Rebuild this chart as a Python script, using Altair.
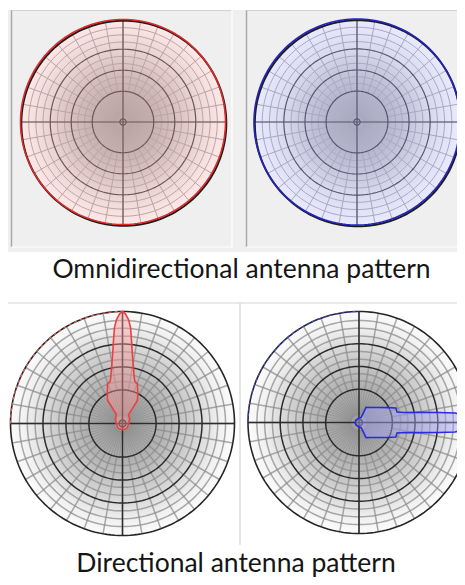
import math
import altair as alt
import pandas as pd

# ---------------- data ----------------
TITLES = ["Omnidirectional antenna pattern", "Directional antenna pattern"]

# grid circles, as a fraction of the outer circle
MAJOR_RINGS = [0.30, 0.505, 0.71]
MINOR_RINGS = [0.075, 0.375, 0.44, 0.57, 0.64, 0.78, 0.85, 0.92]
CENTER_RING = [0.03]
OUTER_RING = [1.0]
# radial grid lines (degrees, clockwise from north)
OUTER_SPOKES = list(range(0, 360, 10))
INNER_SPOKES = list(range(0, 360, 5))

# directional patterns: angle off the beam axis (deg) and relative radius
RED_ANGLE = [0, 1.5, 3.3, 4.8, 6, 8, 11, 14.5, 16.5, 20.5, 27, 33, 33.5, 34, 55, 90, 130, 150, 180]
RED_GAIN = [1.00, 0.98, 0.93, 0.86, 0.76, 0.63, 0.51, 0.42, 0.39, 0.38, 0.30, 0.245, 0.16, 0.096,
            0.077, 0.056, 0.057, 0.058, 0.056]
RED_BEAM_AZ = 0

BLUE_ANGLE = [0, 2.1, 4.1, 5.65, 7.1, 9.5, 12.5, 15.4, 21.4, 26.6, 36.9, 51.3, 65, 65.5, 68, 90, 140, 180]
BLUE_GAIN = [1.00, 0.98, 0.94, 0.87, 0.725, 0.55, 0.415, 0.355, 0.357, 0.30, 0.225, 0.173, 0.15,
             0.08, 0.049, 0.041, 0.035, 0.036]
BLUE_BEAM_AZ = 90

# ---------------- layout ----------------
W, H = 449, 569
XS = alt.Scale(domain=[8, 8 + W], nice=False, zero=False)
YS = alt.Scale(domain=[8, 8 + H], nice=False, zero=False, reverse=True)
RS = alt.Scale(type="linear", domain=[0, 200], range=[0, 200], zero=True)

TL = (123, 122, 102.5)
TR = (357, 122, 103)
BL = (122.5, 423.5, 112)
BR = (359, 422.5, 111)


def X(f="x"):
    return alt.X(f"{f}:Q", scale=XS, axis=None)


def Y(f="y"):
    return alt.Y(f"{f}:Q", scale=YS, axis=None)


def ring_df(cx, cy, R, fracs, a0=0, a1=360, step=2):
    rows = []
    n = int(round((a1 - a0) / step))
    for k, f in enumerate(fracs):
        for i in range(n + 1):
            a = math.radians(a0 + i * step)
            rows.append({"ring": k, "i": i,
                         "x": cx + R * f * math.sin(a),
                         "y": cy - R * f * math.cos(a)})
    return pd.DataFrame(rows)


def rings(geom, fracs, a0=0, a1=360, dx=0, dy=0, **mark):
    cx, cy, R = geom
    df = ring_df(cx + dx, cy + dy, R, fracs, a0, a1)
    return alt.Chart(df).mark_line(**mark).encode(
        x=X(), y=Y(), detail="ring:N", order="i:Q")


def spokes(geom, angles, r0, r1, **mark):
    cx, cy, R = geom
    rows = []
    for a in angles:
        t = math.radians(a)
        rows.append({"x": cx + R * r0 * math.sin(t), "y": cy - R * r0 * math.cos(t),
                     "x2": cx + R * r1 * math.sin(t), "y2": cy - R * r1 * math.cos(t)})
    return alt.Chart(pd.DataFrame(rows)).mark_rule(**mark).encode(
        x=X(), y=Y(), x2="x2:Q", y2="y2:Q")


def disk(geom, stops):
    cx, cy, R = geom
    grad = alt.RadialGradient(
        gradient="radial",
        stops=[alt.GradientStop(offset=o, color=c) for o, c in stops],
        x1=0.5, y1=0.5, r1=0, x2=0.5, y2=0.5, r2=0.5)
    df = pd.DataFrame({"x": [cx], "y": [cy], "r": [R]})
    return alt.Chart(df).mark_arc(fill=grad, theta=0, theta2=2 * math.pi, strokeWidth=0).encode(
        x=X(), y=Y(), radius=alt.Radius("r:Q", scale=RS))


def lobe(geom, beam_az, angles, gains, **mark):
    cx, cy, R = geom
    seq = list(zip(angles, gains)) + [(-a, g) for a, g in reversed(list(zip(angles, gains)))
                                     if 0 < a < 180]
    rows = []
    for i, (a, g) in enumerate(seq):
        t = math.radians(beam_az + a)
        rows.append({"i": i, "x": cx + R * g * math.sin(t), "y": cy - R * g * math.cos(t)})
    return alt.Chart(pd.DataFrame(rows)).mark_line(interpolate="linear-closed", **mark).encode(
        x=X(), y=Y(), order="i:Q")


def cross(geom, **mark):
    return spokes(geom, [0, 90, 180, 270], 0, 1.0, **mark)


def rect(x, x2, y, y2, **mark):
    df = pd.DataFrame({"x": [x], "x2": [x2], "y": [y], "y2": [y2]})
    return alt.Chart(df).mark_rect(**mark).encode(x=X(), x2="x2:Q", y=Y(), y2="y2:Q")


def rule(x, x2, y, y2, **mark):
    df = pd.DataFrame({"x": [x], "x2": [x2], "y": [y], "y2": [y2]})
    return alt.Chart(df).mark_rule(**mark).encode(x=X(), x2="x2:Q", y=Y(), y2="y2:Q")


def grid(geom, light, dark, lw, dw, lop=1.0):
    return [
        spokes(geom, INNER_SPOKES, MINOR_RINGS[0], MAJOR_RINGS[0], stroke=light,
               strokeWidth=lw * 0.7, opacity=lop * 0.8),
        spokes(geom, OUTER_SPOKES, MAJOR_RINGS[0], 1.0, stroke=light, strokeWidth=lw, opacity=lop),
        rings(geom, MINOR_RINGS, stroke=light, strokeWidth=lw, opacity=lop),
        rings(geom, MAJOR_RINGS, stroke=dark, strokeWidth=dw),
        rings(geom, CENTER_RING, stroke=dark, strokeWidth=dw),
        cross(geom, stroke=dark, strokeWidth=dw),
    ]


layers = []

# ---- frames ----
layers += [
    rect(8, 465, 10, 252, fill="#efefef"),
    rule(11.5, 11.5, 10, 247, stroke="#a8a8a8", strokeWidth=1.5),
    rule(11.5, 232, 10.5, 10.5, stroke="#d2d2d2", strokeWidth=1),
    rule(232, 232, 10, 247, stroke="#ffffff", strokeWidth=1.2),
    rule(11.5, 232, 247, 247, stroke="#ffffff", strokeWidth=1.2),
    rule(246.5, 246.5, 10, 247, stroke="#a8a8a8", strokeWidth=1.5),
    rule(246.5, 465, 10.5, 10.5, stroke="#d2d2d2", strokeWidth=1),
    rule(246.5, 465, 247, 247, stroke="#ffffff", strokeWidth=1.2),
    rule(8, 465, 303, 303, stroke="#d6d6d6", strokeWidth=1.2),
    rule(240, 240, 303, 545, stroke="#d6d6d6", strokeWidth=1.2),
]

# ---- omnidirectional, red ----
layers.append(disk(TL, [(0, "#bca5a5"), (0.3, "#c9b1b1"), (0.5, "#d7bfbf"),
                        (0.72, "#ebd3d3"), (1.0, "#fee9e9")]))
layers += grid(TL, "#bba4a4", "#6e5656", 1.0, 1.2)
layers.append(rings(TL, OUTER_RING, dx=0.8, dy=1.3, stroke="#1c1c1c", strokeWidth=2))
layers.append(rings(TL, OUTER_RING, stroke="#e02a2a", strokeWidth=1.6))

# ---- omnidirectional, blue ----
layers.append(disk(TR, [(0, "#aaaac2"), (0.3, "#b6b6ce"), (0.5, "#c5c5dd"),
                        (0.72, "#d9d9f0"), (1.0, "#eaeaff")]))
layers += grid(TR, "#a8a8c0", "#56566e", 1.0, 1.2)
layers.append(rings(TR, OUTER_RING, dx=0.8, dy=1.3, stroke="#1c1c1c", strokeWidth=2))
layers.append(rings(TR, OUTER_RING, stroke="#2424c0", strokeWidth=1.6))

# ---- directional, red ----
gray_stops = [(0, "#9c9c9c"), (0.3, "#adadad"), (0.5, "#c2c2c2"), (0.72, "#dcdcdc"),
              (0.86, "#f0f0f0"), (1.0, "#fbfbfb")]
layers.append(disk(BL, gray_stops))
layers += grid(BL, "#8c8c8c", "#2c2c2c", 1.5, 1.5, 0.75)
layers.append(rings(BL, OUTER_RING, stroke="#262626", strokeWidth=1.6))
layers.append(rings(BL, OUTER_RING, a0=270, a1=360, stroke="#e06060", strokeWidth=1.3,
                    strokeDash=[3, 3]))
layers.append(lobe(BL, RED_BEAM_AZ, RED_ANGLE, RED_GAIN, fill="rgba(250,150,150,0.42)",
                   stroke="#ec4040", strokeWidth=1.6))

# ---- directional, blue ----
layers.append(disk(BR, gray_stops))
layers += grid(BR, "#8c8c8c", "#2c2c2c", 1.5, 1.5, 0.75)
layers.append(rings(BR, OUTER_RING, stroke="#262626", strokeWidth=1.6))
layers.append(rings(BR, OUTER_RING, a0=270, a1=360, stroke="#4848d0", strokeWidth=1.3,
                    strokeDash=[3, 3]))
layers.append(lobe(BR, BLUE_BEAM_AZ, BLUE_ANGLE, BLUE_GAIN, fill="rgba(165,165,250,0.45)",
                   stroke="#2a2ae0", strokeWidth=1.6))

# ---- captions ----
cap = pd.DataFrame({"x": [241.5, 236], "y": [278, 572], "text": TITLES})
layers.append(alt.Chart(cap).mark_text(font="Lato", fontSize=26.5, color="#151515",
                                       align="center", baseline="alphabetic").encode(
    x=X(), y=Y(), text="text:N"))

chart = alt.layer(*layers).properties(
    width=W, height=H, padding=0, autosize="none", background="white"
).configure_view(strokeWidth=0)

chart.save("out.html", embed_options={"renderer": "svg", "actions": False})
